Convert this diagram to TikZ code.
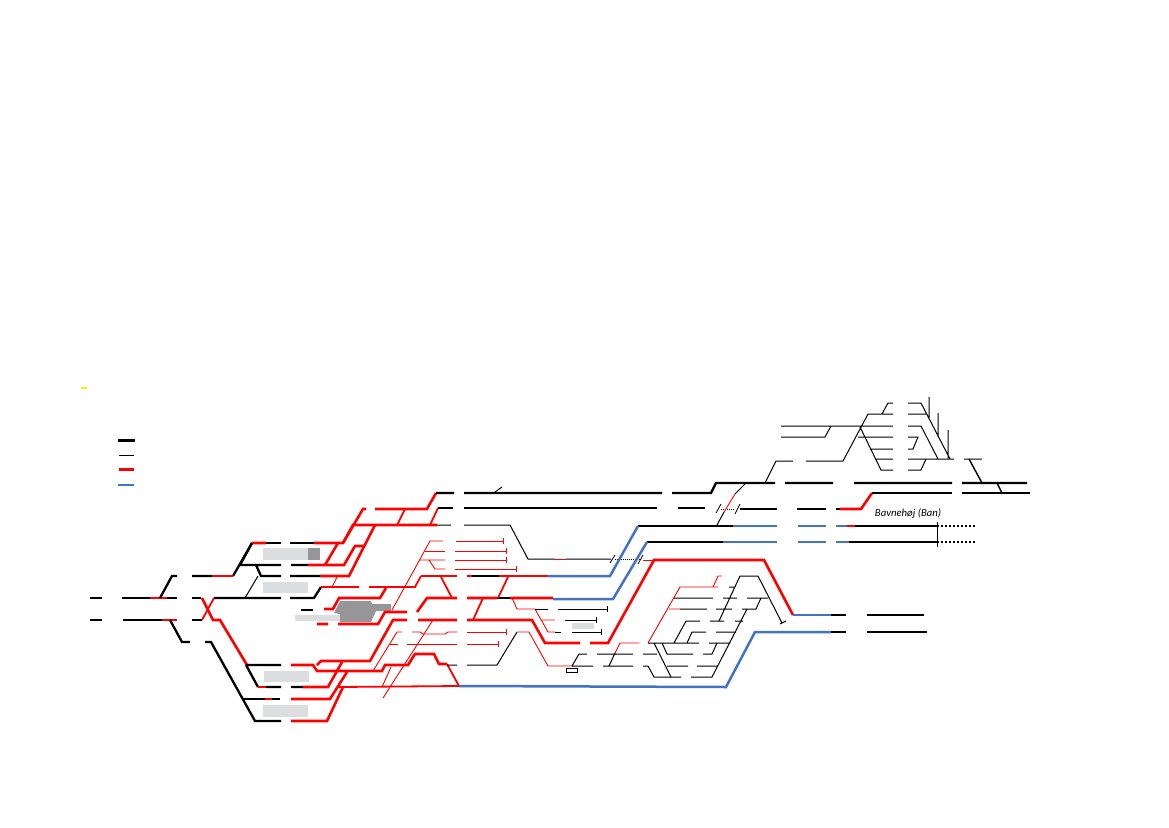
\documentclass[tikz,border=0pt]{standalone}
\usepackage{fontspec}
\setmainfont{Carlito}
\definecolor{trackblue}{HTML}{4472C4}
\definecolor{lightblock}{HTML}{DCDDDE}
\definecolor{darkblock}{HTML}{969698}
\usetikzlibrary{arrows.meta}
\tikzset{
  kk/.style={draw=black,line width=2.3pt},
  kt/.style={draw=black,line width=1pt},
  rr/.style={draw=red,line width=2.6pt},
  rm/.style={draw=red,line width=1.8pt},
  rt/.style={draw=red,line width=0.9pt},
  bb/.style={draw=trackblue,line width=2.5pt},
  tk/.style={draw=black,line width=0.8pt},
  dots/.style={draw=black,line width=1.4pt,dash pattern=on 2pt off 2pt},
  lightb/.style={fill=lightblock,draw=none},
  darkb/.style={fill=darkblock,draw=none},
  stopr/.style={draw=red,line width=0.9pt,{}-{|[width=6pt,length=0.8pt]}},
  stopk/.style={draw=black,line width=0.9pt,{}-{|[width=6pt,length=0.8pt]}}
}
\begin{document}
\begin{tikzpicture}[x=1pt,y=-1pt]
\useasboundingbox (0,0) rectangle (1169,827);
% blocks
\fill[lightb] (263,548) rectangle (308,560);
\fill[darkb] (308,548) rectangle (320,560);
\fill[lightb] (263,582) rectangle (308,593);
\fill[lightb] (264,671) rectangle (309,682);
\fill[lightb] (263,705) rectangle (308,717);
\fill[lightb] (295,615) rectangle (340,621);
\fill[lightb] (572,623) rectangle (594,629);
\fill[darkb] (334,613)--(340,601)--(371,601)--(372,604)--(391,604)--(391,611)--(376,611)--(371,622)--(340,622)--(340,614)--cycle;
% yellow mark and legend
\fill[yellow] (81,386.5) rectangle (87,388.5);
\draw[kk] (118,440.5)--(135,440.5);
\draw[kt] (119,455.5)--(134,455.5);
\draw[rr] (119,469.5)--(134,469.5);
\draw[bb] (118,485)--(134,485);
% left entry
\draw[kk] (90,598)--(102,598) (122,598)--(150,598) (167,598)--(177,598) (192,598)--(201,598);
\draw[rr] (150,598)--(167,598);
\draw[kk] (90,620)--(102,620) (123,620)--(162,620) (192,620)--(202,620);
\draw[rr] (162,620)--(177,620);
\draw[kk] (160,598)--(172,576)--(177,576) (192,576)--(212,576) (233,576)--(252,543);
\draw[rr] (212,576)--(233,576);
\draw[kk] (170,620)--(182,642)--(190,642) (205,642)--(211,642)--(255,721)--(281,721);
% X
\draw[rr] (202,598)--(213,620)--(220,620)--(247,665);
\draw[rm] (202,620)--(214,598);
\draw[kk] (214,598)--(281,598) (290,598)--(314,598)--(321,587);
\draw[kt] (245,598)--(258,576);
% y=543
\draw[rr] (252,543)--(266,543) (314,543)--(343,543)--(363,509)--(366,509);
\draw[kk] (266,543)--(281,543) (290,543)--(314,543);
\draw[kk] (240,565)--(281,565) (291,565)--(308,565) (256,565)--(261,576)--(281,576) (290,576)--(320,576);
\draw[kk] (252,543)--(240,565);
\draw[rr] (308,565)--(344,565)--(355,546)--(364,546);
\draw[rr] (325,565)--(338,543);
\draw[rr] (320,576)--(349,576)--(375,525);
\draw[rr] (343,543)--(353,525)--(437,525);
\draw[kt] (437,525)--(451,525) (464,525)--(510,525)--(528,559)--(555,559) (566,559)--(611,559);
\draw[rt] (555,559)--(566,559);
\draw[rr] (375,509)--(427,509)--(436,493);
\draw[rm] (397,525)--(405,509) (430,525)--(438,508);
\draw[kk] (436,493)--(454,493) (464,493)--(662,493) (672,493)--(711,493)--(716,483)--(775,483) (785,483)--(833,483) (854,483)--(952,483) (962,483)--(1027,483);
\draw[kt] (495,492)--(502,487);
\draw[kk] (438,508)--(453,508) (464,508)--(657,508) (678,508)--(705,508) (740,509)--(777,509) (797,509)--(826,509) (836,509)--(840,509);
\draw[rr] (840,509)--(861,509)--(872,493);
\draw[kk] (872,493)--(952,493) (962,493)--(1030,493);
% ticks and dotted
\draw[tk] (716,513)--(721,504) (735,514)--(740,504) (610,563)--(615,555) (638,564)--(643,555);
\draw[draw=black,line width=0.9pt,dash pattern=on 1pt off 1pt] (721,509)--(735,509) (615,559)--(640,559);
\draw[kt] (717,525)--(724,512) (735,494)--(745,484);
\draw[rt] (724,512)--(735,494);
\draw[rt] (643,560)--(654,560);
% y=526 and 542
\draw[kk] (638,526)--(733,526) (855,526)--(937,526);
\draw[bb] (733,526)--(777,526) (798,526)--(826,526) (836,526)--(847,526);
\draw[rr] (847,526)--(855,526);
\draw[kk] (647,542)--(723,542) (849,542)--(937,542);
\draw[bb] (723,542)--(777,542) (798,542)--(826,542) (836,542)--(849,542);
\draw[tk] (937,522)--(937,547);
\draw[dots] (937,526)--(976,526) (937,542)--(976,542);
\node[font=\itshape,inner sep=0pt,text=black,scale=1.07] (bavnehoj) at (908,514) {Bavnehøj (Ban)};
% blue diagonals
\draw[bb] (638,526)--(610,576)--(548,576);
\draw[bb] (647,542)--(613,599)--(553,599);
\draw[rr] (421,576)--(457,576) (467,576)--(472,576) (499,576)--(548,576);
\draw[kk] (472,576)--(499,576);
\draw[rm] (321,587)--(359,587) (369,587)--(415,587)--(421,576);
\draw[rt] (337,577)--(332,587);
\draw[rr] (324,609)--(333,609)--(339,598)--(380,598)--(386,588);
\draw[kk] (301,610)--(313,610);
\draw[rr] (317,624)--(328,624) (338,624)--(378,624)--(385,612)--(407,612) (417,612)--(427,598)--(457,598) (467,598)--(497,598) (510,598)--(553,598);
\draw[kk] (497,598)--(510,598);
% central red links
\draw[rt] (392,610)--(430,541)--(443,541);
\draw[stopr] (456,541)--(504,541);
\draw[rt] (425,551)--(445,551);
\draw[stopr] (455,551)--(507,551);
\draw[rt] (419,560)--(445,560) (429,560)--(435,569)--(445,569);
\draw[stopr] (455,560)--(507,560);
\draw[stopr] (455,569)--(517,569);
\draw[rm] (441,577)--(452,598) (483,598)--(473,620) (508,577)--(498,598);
\draw[rt] (512,598)--(517,609)--(535,609)--(548,632)--(555,632) (542,620)--(555,620);
\draw[kt] (535,609)--(548,609) (555,632)--(561,632);
\draw[stopk] (558,609)--(608,609);
\draw[stopk] (565,620)--(597,620);
\draw[stopk] (572,632)--(602,632);
% y=620 and bottom
\draw[kk] (246,665)--(281,665) (246,665)--(258,687) (266,687)--(281,687) (291,687)--(303,687);
\draw[rr] (258,687)--(266,687);
\draw[rr] (291,665)--(313,665)--(317,671)--(382,671)--(385,665)--(408,665)--(415,654)--(434,654)--(439,664)--(447,664);
\draw[rr] (317,665)--(321,661)--(370,661)--(393,620)--(407,620) (418,620)--(457,620) (467,620)--(532,620)--(545,643)--(580,643) (590,643)--(608,643)--(654,560)--(764,560)--(793,615);
\draw[rt] (373,671)--(397,632)--(402,632) (412,632)--(420,632)--(423,634)--(445,634)--(448,632)--(457,632);
\draw[stopr] (467,632)--(507,632);
\draw[rt] (390,644)--(398,644) (407,644)--(457,644);
\draw[stopr] (467,644)--(499,644);
\draw[rt] (382,687)--(391,667) (383,698)--(433,620);
\draw[rm] (338,687)--(459,686) (447,664)--(459,686);
\draw[kt] (447,665)--(457,665) (467,665)--(497,665)--(517,632);
\draw[rt] (517,632)--(529,632)--(548,666)--(572,666);
\draw[rr] (303,687)--(328,687)--(342,662);
\draw[rr] (291,699)--(330,699)--(347,672);
\draw[kk] (243,699)--(265,699) (272,699)--(280,699);
\draw[rr] (265,699)--(272,699);
\draw[rr] (291,721)--(327,721)--(343,687);
\draw[bb] (459,686)--(726,687)--(755,632)--(831,632);
\draw[kk] (831,632)--(846,632) (867,632)--(927,632);
\draw[bb] (793,615)--(831,615);
\draw[kk] (831,615)--(846,615) (867,615)--(924,615);
% lower centre yard
\draw[kt] (572,666)--(593,666) (572,666)--(579,654)--(587,654) (597,654)--(633,654) (643,654)--(657,654) (603,666)--(633,666) (643,666)--(648,666)--(654,677)--(681,677) (691,677)--(712,677)--(747,609) (609,666)--(615,653);
\draw[black,line width=0.7pt,fill=white] (566,668) rectangle (577,672);
\draw[rt] (615,653)--(620,643)--(639,643) (648,643)--(680,587)--(718,587) (713,587)--(718,576)--(722,576) (669,609)--(680,609);
\draw[kt] (674,598)--(713,598) (680,609)--(707,609) (648,643)--(699,643) (709,643)--(730,643) (654,643)--(671,677) (662,643)--(667,654)--(693,654) (703,654)--(712,654)--(717,643) (674,643)--(686,621)--(700,621) (710,621)--(724,621) (687,643)--(692,632)--(706,632) (716,632)--(736,632) (667,666)--(688,666) (697,666)--(718,666) (716,609)--(732,609) (742,609)--(756,609)--(761,598) (723,598)--(737,598) (747,598)--(768,598) (719,621)--(740,576)--(758,576)--(782,623) (780,624)--(786,621) (729,587)--(735,587) (735,621)--(743,621);
% upper right yard
\draw[kt] (765,483)--(776,461)--(793,461) (806,461)--(843,461)--(868,414)--(893,414) (781,426)--(893,426) (781,437)--(825,437)--(831,426) (882,414)--(888,403)--(893,403) (908,403)--(921,403)--(950,459) (908,414)--(926,414) (929,397)--(929,418) (938,413)--(938,437) (948,430)--(948,458) (858,437)--(893,437) (860,427)--(881,470)--(893,470) (870,449)--(893,449) (875,459)--(893,459) (908,426)--(921,426)--(938,459) (908,437)--(918,437)--(913,449)--(908,449) (908,459)--(954,459) (926,459)--(921,470)--(908,470) (964,459)--(982,459);
\draw[line width=1.4pt] (969,459)--(982,483) (997,483)--(1002,493);
\end{tikzpicture}
\end{document}
